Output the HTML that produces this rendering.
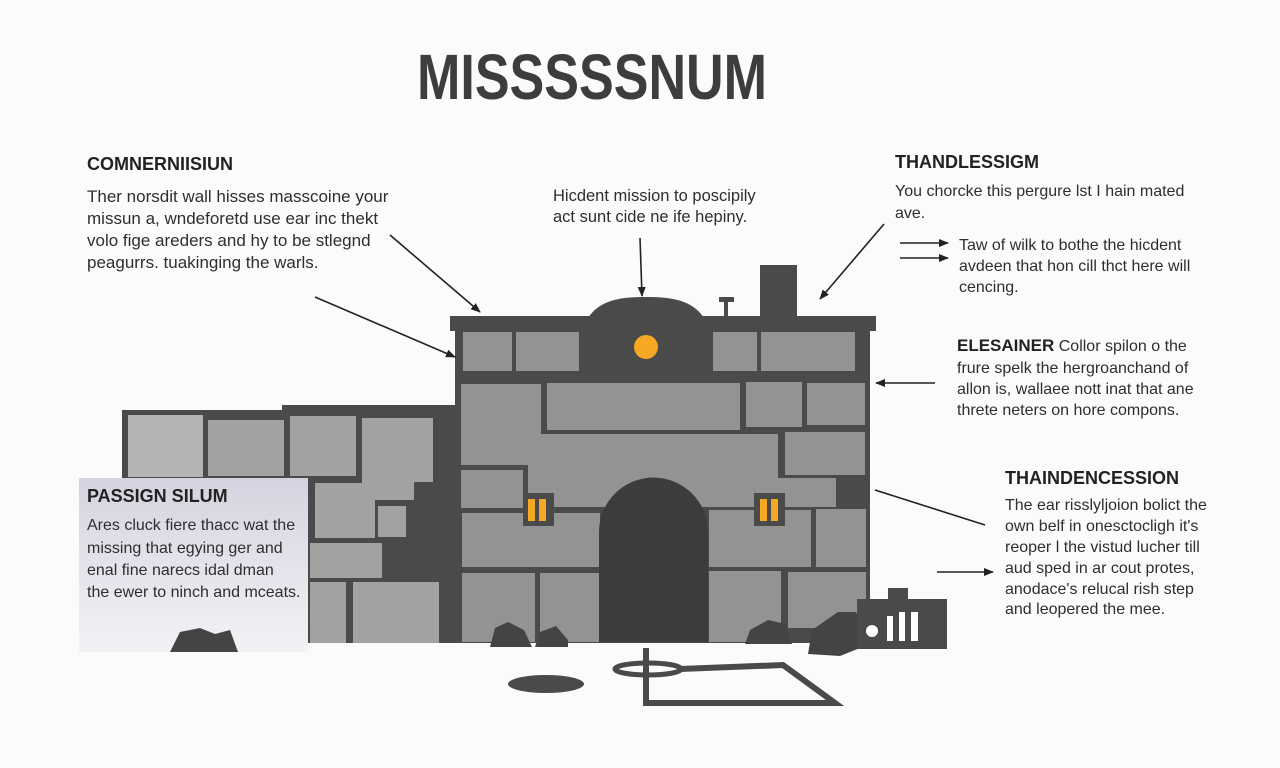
<!DOCTYPE html>
<html><head><meta charset="utf-8"><style>
html,body{margin:0;padding:0;background:#fbfbfb;}
svg{display:block;}
text{font-family:"Liberation Sans",sans-serif;fill:#2e2e2e;}
.h{font-weight:bold;font-size:18px;fill:#222;}
.b{font-size:16px;}
.b17{font-size:17px;}
</style></head><body>
<svg width="1280" height="768" viewBox="0 0 1280 768" xmlns="http://www.w3.org/2000/svg">
<defs>
<linearGradient id="g" x1="0" y1="0" x2="0" y2="1"><stop offset="0" stop-color="#d4d4e0"/><stop offset="1" stop-color="#f2f2f6"/></linearGradient>
<marker id="a" markerWidth="10" markerHeight="8" refX="9" refY="4" orient="auto" markerUnits="userSpaceOnUse"><path d="M0,0 L10,4 L0,8 z" fill="#222"/></marker>
</defs>
<rect width="1280" height="768" fill="#fbfbfb"/>
<text x="417" y="99" font-size="64" font-weight="bold" textLength="350" lengthAdjust="spacingAndGlyphs" style="fill:#3d3d3d">MISSSSSNUM</text>

<!-- left wall -->
<path d="M122,410 L282,410 L282,405 L460,405 L460,643 L122,643 z" fill="#4a4a4a"/>
<g fill="#a2a2a2">
<rect x="128" y="415" width="75" height="62" fill="#b4b4b4"/>
<rect x="208" y="420" width="76" height="56"/>
<rect x="290" y="416" width="66" height="60"/>
<path d="M362,418 L433,418 L433,482 L414,482 L414,500 L362,500 z"/>
<rect x="315" y="483" width="60" height="55"/>
<rect x="378" y="506" width="28" height="31"/>
<rect x="310" y="543" width="72" height="35"/>
<rect x="310" y="582" width="36" height="61"/>
<rect x="353" y="582" width="86" height="61"/>
</g>

<!-- main body -->
<rect x="455" y="330" width="415" height="313" fill="#4a4a4a"/>
<rect x="450" y="316" width="426" height="15" fill="#4a4a4a"/>
<path d="M588,318 C600,300 620,297 646,297 C672,297 692,300 704,318 z" fill="#4a4a4a"/>
<rect x="760" y="265" width="37" height="53" fill="#4a4a4a"/>
<rect x="724" y="298" width="4" height="18" fill="#4a4a4a"/>
<rect x="719" y="297" width="15" height="5" fill="#4a4a4a"/>
<g fill="#939393">
<rect x="463" y="332" width="49" height="39"/>
<rect x="516" y="332" width="63" height="39"/>
<rect x="713" y="332" width="44" height="39"/>
<rect x="761" y="332" width="94" height="39"/>
<rect x="461" y="384" width="80" height="81"/>
<rect x="547" y="383" width="193" height="47"/>
<rect x="746" y="382" width="56" height="45"/>
<rect x="807" y="383" width="58" height="42"/>
<rect x="528" y="434" width="250" height="73"/>
<rect x="778" y="478" width="58" height="29"/>
<rect x="785" y="432" width="80" height="43"/>
<rect x="461" y="470" width="62" height="38"/>
<rect x="462" y="513" width="138" height="54"/>
<rect x="709" y="510" width="102" height="57"/>
<rect x="816" y="509" width="50" height="58"/>
<rect x="462" y="573" width="73" height="69"/>
<rect x="540" y="573" width="60" height="69"/>
<rect x="709" y="571" width="72" height="71"/>
<rect x="788" y="572" width="78" height="56"/>
</g>
<circle cx="646" cy="347" r="12" fill="#f5a823"/>
<path d="M599,642 L599,532 A54.5,54.5 0 0 1 708,532 L708,642 z" fill="#3c3c3c"/>
<rect x="523" y="493" width="31" height="33" fill="#4a4a4a"/>
<rect x="528" y="499" width="7" height="22" fill="#f5a823"/><rect x="539" y="499" width="7" height="22" fill="#f5a823"/>
<rect x="754" y="493" width="31" height="33" fill="#4a4a4a"/>
<rect x="760" y="499" width="7" height="22" fill="#f5a823"/><rect x="771" y="499" width="7" height="22" fill="#f5a823"/>

<!-- rubble -->
<g fill="#444">
<path d="M490,647 L495,628 L508,622 L524,630 L532,647 z"/>
<path d="M535,647 L540,632 L556,626 L568,640 L568,647 z"/>
<path d="M745,644 L750,630 L768,620 L786,624 L792,644 z"/>
<path d="M808,654 L812,630 L838,612 L856,612 L870,644 L840,656 z"/>
</g>
<!-- small building -->
<rect x="857" y="599" width="90" height="50" fill="#4a4a4a"/>
<rect x="888" y="588" width="20" height="12" fill="#4a4a4a"/>
<circle cx="872" cy="631" r="6" fill="#fff"/>
<rect x="887" y="616" width="6" height="25" fill="#fff"/>
<rect x="899" y="612" width="6" height="29" fill="#fff"/>
<rect x="911" y="612" width="7" height="29" fill="#fff"/>
<!-- ground -->
<ellipse cx="546" cy="684" rx="38" ry="9" fill="#4a4a4a"/>
<ellipse cx="648" cy="669" rx="33" ry="6" fill="none" stroke="#4a4a4a" stroke-width="5"/>
<path d="M646,648 L646,703 L835,703 L783,665 L680,669" fill="none" stroke="#4a4a4a" stroke-width="6"/>

<!-- left box -->
<rect x="79" y="478" width="229" height="174" fill="url(#g)"/>
<path d="M170,652 L180,632 L200,628 L215,634 L230,630 L238,652 z" fill="#444"/>
<text class="h" x="87" y="502">PASSIGN SILUM</text>
<text class="b" x="87" y="530">Ares cluck fiere thacc wat the</text>
<text class="b" x="87" y="553">missing that egying ger and</text>
<text class="b" x="87" y="575">enal fine narecs idal dman</text>
<text class="b" x="87" y="597">the ewer to ninch and mceats.</text>

<!-- texts -->
<text class="h" x="87" y="170">COMNERNIISIUN</text>
<text class="b17" x="87" y="202">Ther norsdit wall hisses masscoine your</text>
<text class="b17" x="87" y="224">missun a, wndeforetd use ear inc thekt</text>
<text class="b17" x="87" y="246">volo fige areders and hy to be stlegnd</text>
<text class="b17" x="87" y="268">peagurrs. tuakinging the warls.</text>
<text class="b" style="font-size:16.5px" x="553" y="201">Hicdent mission to poscipily</text>
<text class="b" style="font-size:16.5px" x="553" y="222">act sunt cide ne ife hepiny.</text>
<text class="h" x="895" y="168">THANDLESSIGM</text>
<text class="b" x="895" y="196">You chorcke this pergure lst I hain mated</text>
<text class="b" x="895" y="218">ave.</text>
<text class="b" x="959" y="250">Taw of wilk to bothe the hicdent</text>
<text class="b" x="959" y="271">avdeen that hon cill thct here will</text>
<text class="b" x="959" y="292">cencing.</text>
<text class="b" x="957" y="351"><tspan class="h" style="font-size:17px">ELESAINER</tspan> Collor spilon o the</text>
<text class="b" x="957" y="373">frure spelk the hergroanchand of</text>
<text class="b" x="957" y="394">allon is, wallaee nott inat that ane</text>
<text class="b" x="957" y="415">threte neters on hore compons.</text>
<text class="h" x="1005" y="484">THAINDENCESSION</text>
<text class="b" x="1005" y="510">The ear risslyljoion bolict the</text>
<text class="b" x="1005" y="531">own belf in onesctocligh it's</text>
<text class="b" x="1005" y="552">reoper l the vistud lucher till</text>
<text class="b" x="1005" y="573">aud sped in ar cout protes,</text>
<text class="b" x="1005" y="594">anodace's relucal rish step</text>
<text class="b" x="1005" y="614">and leopered the mee.</text>

<!-- arrows -->
<g stroke="#222" stroke-width="1.6" fill="none" marker-end="url(#a)">
<line x1="390" y1="235" x2="480" y2="312"/>
<line x1="315" y1="297" x2="455" y2="357"/>
<line x1="640" y1="238" x2="642" y2="296"/>
<line x1="884" y1="224" x2="820" y2="299"/>
<line x1="935" y1="383" x2="876" y2="383"/>
<line x1="900" y1="243" x2="948" y2="243"/>
<line x1="900" y1="258" x2="948" y2="258"/>
<line x1="937" y1="572" x2="993" y2="572"/>
</g>
<line x1="875" y1="490" x2="985" y2="525" stroke="#222" stroke-width="1.6"/>
</svg>
</body></html>
